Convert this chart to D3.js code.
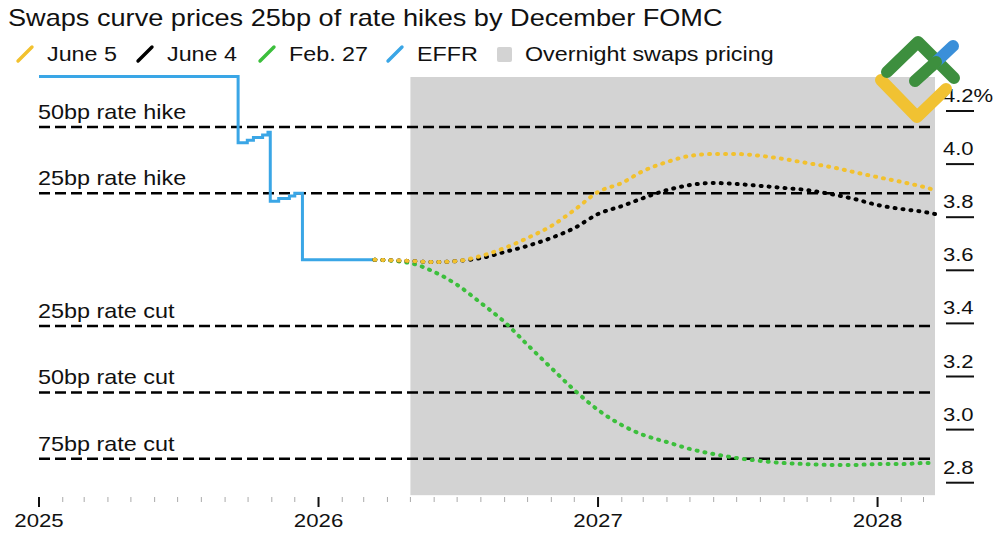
<!DOCTYPE html>
<html>
<head>
<meta charset="utf-8">
<script src="https://cdn.jsdelivr.net/npm/d3@7"></script>
<style>
  html, body { margin: 0; padding: 0; background: #fff; }
  svg { display: block; font-family: "Liberation Sans", Arial, Helvetica, sans-serif; }
  .title { font-size: 23px; fill: #111; }
  .legend text { font-size: 21px; fill: #111; }
  .level text { font-size: 20px; fill: #111; }
  .yaxis text { font-size: 19px; fill: #111; }
  .xaxis text { font-size: 19px; fill: #111; }
</style>
</head>
<body>
<script>

// EFFR, step series
const effrDates = ['2025-01-01', '2025-09-18', '2025-09-30', '2025-10-08', '2025-10-20', '2025-10-27',
  '2025-10-30', '2025-11-10', '2025-11-24', '2025-12-01', '2025-12-11', '2026-03-15']
const effrValues = [4.33, 4.08, 4.09, 4.10, 4.11, 4.12, 3.86, 3.87, 3.88, 3.89, 3.64, 3.64]

// swaps curves
const curveDates = ['2026-03-15', '2026-05-01', '2026-06-01', '2026-07-01', '2026-08-01', '2026-09-01',
  '2026-10-01', '2026-11-01', '2026-12-01', '2027-01-01', '2027-02-01', '2027-03-01', '2027-04-01',
  '2027-05-01', '2027-06-01', '2027-07-01', '2027-08-01', '2027-09-01', '2027-10-01', '2027-11-01',
  '2027-12-01', '2028-01-01', '2028-02-01', '2028-03-01', '2028-03-16']
const june5 = [3.64, 3.635, 3.631, 3.635, 3.654, 3.684, 3.722, 3.767, 3.827, 3.895, 3.929, 3.974, 4.008,
  4.031, 4.038, 4.038, 4.031, 4.019, 4.004, 3.989, 3.970, 3.951, 3.933, 3.914, 3.902]
const june4 = [3.64, 3.635, 3.631, 3.635, 3.646, 3.669, 3.692, 3.722, 3.759, 3.812, 3.842, 3.872, 3.902,
  3.921, 3.929, 3.925, 3.918, 3.910, 3.902, 3.887, 3.869, 3.846, 3.831, 3.820, 3.812]
const feb27 = [3.64, 3.627, 3.594, 3.545, 3.477, 3.405, 3.319, 3.232, 3.149, 3.074, 3.017, 2.980, 2.953,
  2.927, 2.908, 2.893, 2.882, 2.874, 2.870, 2.867, 2.867, 2.870, 2.870, 2.874, 2.874]

// overnight swaps pricing window
const shadeDates = ['2026-05-01', '2028-03-16']

// reference levels
const levelLabels = ['50bp rate hike', '25bp rate hike', '25bp rate cut', '50bp rate cut', '75bp rate cut']
const levelValues = [4.14, 3.89, 3.39, 3.14, 2.89]

const yTicks = [4.2, 4.0, 3.8, 3.6, 3.4, 3.2, 3.0, 2.8]
const yTickLabels = ['4.2%', '4.0', '3.8', '3.6', '3.4', '3.2', '3.0', '2.8']

const legendNames = ['June 5', 'June 4', 'Feb. 27', 'EFFR']
const legendColors = ['#f2c12e', '#000000', '#3cbf3c', '#3aa6e6']

const width = 1000
const height = 545

const parse = d3.utcParse('%Y-%m-%d')

const x = d3.scaleUtc()
  .domain([parse('2025-01-01'), parse('2028-03-16')])
  .range([39, 935])

const y = d3.scaleLinear()
  .domain([2.8, 4.2])
  .range([482.7, 111])

// the source type runs wide, so text is stretched horizontally around its anchor
function place(sel, px, py, sx) {
  return sel.attr('transform', (d, i) => {
    const tx = typeof px === 'function' ? px(d, i) : px
    const ty = typeof py === 'function' ? py(d, i) : py
    return 'translate(' + tx + ',' + ty + ') scale(' + sx + ',1)'
  })
}

const svg = d3.select('body').append('svg')
  .attr('width', width)
  .attr('height', height)

// shaded band
svg.append('rect')
  .attr('x', x(parse(shadeDates[0])))
  .attr('y', y(4.328))
  .attr('width', x(parse(shadeDates[1])) - x(parse(shadeDates[0])))
  .attr('height', y(2.753) - y(4.328))
  .attr('fill', '#d3d3d3')

// title
place(svg.append('text')
  .attr('class', 'title')
  .text('Swaps curve prices 25bp of rate hikes by December FOMC'), 8, 26, 1.18)

// legend
const legendX = [18, 138, 260, 388]
const legend = svg.append('g').attr('class', 'legend')

legendNames.forEach((name, i) => {
  legend.append('line')
    .attr('x1', legendX[i]).attr('y1', 61)
    .attr('x2', legendX[i] + 14).attr('y2', 47)
    .attr('stroke', legendColors[i])
    .attr('stroke-width', 3.4)
    .attr('stroke-linecap', 'round')
  place(legend.append('text').text(name), legendX[i] + 29, 61, 1.11)
})

legend.append('rect')
  .attr('x', 497).attr('y', 47)
  .attr('width', 15).attr('height', 15)
  .attr('rx', 2)
  .attr('fill', '#d3d3d3')
place(legend.append('text').text('Overnight swaps pricing'), 525, 61, 1.11)

// x axis ticks
const months = d3.utcMonth.range(parse('2025-01-01'), parse('2028-03-16'))
const xaxis = svg.append('g').attr('class', 'xaxis')

xaxis.selectAll('.minor')
  .data(months.filter(d => d.getUTCMonth() !== 0))
  .join('line')
  .attr('class', 'minor')
  .attr('x1', d => x(d)).attr('x2', d => x(d))
  .attr('y1', 497).attr('y2', 502)
  .attr('stroke', '#aaa')
  .attr('stroke-width', 1)

const years = d3.utcYear.range(parse('2025-01-01'), parse('2028-03-16'))

xaxis.selectAll('.major')
  .data(years)
  .join('line')
  .attr('class', 'major')
  .attr('x1', d => x(d)).attr('x2', d => x(d))
  .attr('y1', 497).attr('y2', 507)
  .attr('stroke', '#111')
  .attr('stroke-width', 2)

place(xaxis.selectAll('text')
  .data(years)
  .join('text')
  .attr('text-anchor', 'middle')
  .text(d3.utcFormat('%Y')), d => x(d), 527, 1.17)

// y axis, labels sit on top of a short rule at the value
const yaxis = svg.append('g').attr('class', 'yaxis')

yaxis.selectAll('line')
  .data(yTicks)
  .join('line')
  .attr('x1', 946).attr('x2', 974)
  .attr('y1', d => y(d)).attr('y2', d => y(d))
  .attr('stroke', '#111')
  .attr('stroke-width', 2)

place(yaxis.selectAll('text')
  .data(yTicks)
  .join('text')
  .text((d, i) => yTickLabels[i]), 943, d => y(d) - 9, 1.16)

// rate hike / cut levels
const level = svg.append('g').attr('class', 'level')

levelValues.forEach((v, i) => {
  level.append('line')
    .attr('x1', x.range()[0]).attr('x2', x.range()[1])
    .attr('y1', y(v)).attr('y2', y(v))
    .attr('stroke', '#000')
    .attr('stroke-width', 2.6)
    .attr('stroke-dasharray', '11 5')
  place(level.append('text').text(levelLabels[i]), 38, y(v) - 8, 1.17)
})

// EFFR
const effr = effrDates.map((d, i) => [parse(d), effrValues[i]])

svg.append('path')
  .datum(effr)
  .attr('fill', 'none')
  .attr('stroke', legendColors[3])
  .attr('stroke-width', 3)
  .attr('d', d3.line()
    .x(d => x(d[0]))
    .y(d => y(d[1]))
    .curve(d3.curveStepAfter))

// swaps curves, dotted
const curveLine = d3.line()
  .x(d => x(d[0]))
  .y(d => y(d[1]))
  .curve(d3.curveMonotoneX)

const curves = [[feb27, legendColors[2]], [june4, legendColors[1]], [june5, legendColors[0]]]

curves.forEach(([values, color]) => {
  svg.append('path')
    .datum(curveDates.map((d, i) => [parse(d), values[i]]))
    .attr('fill', 'none')
    .attr('stroke', color)
    .attr('stroke-width', 4)
    .attr('stroke-linecap', 'round')
    .attr('stroke-dasharray', '1 7')
    .attr('d', curveLine)
})

// watermark logo, top right
const logo = svg.append('g')
  .attr('fill', 'none')
  .attr('stroke-linecap', 'round')
  .attr('stroke-linejoin', 'round')
  .attr('stroke-width', 12)

logo.append('path')
  .attr('d', 'M881,80 L917,117 L946,89')
  .attr('stroke', '#f1c232')
logo.append('path')
  .attr('d', 'M887,72 L918,42 L954,78')
  .attr('stroke', '#3d8f3e')
logo.append('path')
  .attr('d', 'M936,62 L953,46')
  .attr('stroke', '#3a8fd9')
logo.append('path')
  .attr('d', 'M915,81 L936,62')
  .attr('stroke', '#3d8f3e')

</script>
</body>
</html>
